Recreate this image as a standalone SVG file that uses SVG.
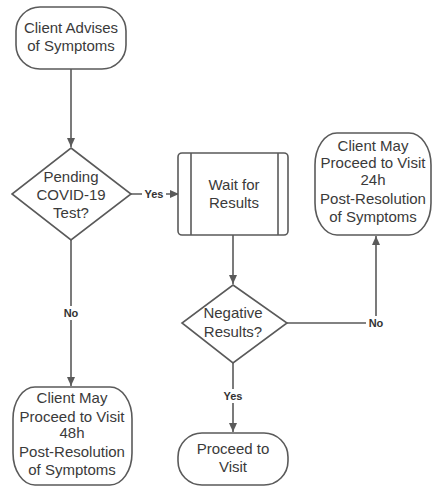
<svg xmlns="http://www.w3.org/2000/svg" width="433" height="487" viewBox="0 0 433 487">
<style>
.shape{fill:#fff;stroke:#5a5a5a;stroke-width:1.6}
.t{font-family:"Liberation Sans",Arial,sans-serif;font-size:15px;fill:#3a3a3a;text-anchor:middle}
.lbl{font-family:"Liberation Sans",Arial,sans-serif;font-size:11px;font-weight:bold;fill:#333;text-anchor:middle}
.edge{fill:none;stroke:#5a5a5a;stroke-width:1.6}
</style>
<defs>
<marker id="arr" markerWidth="10" markerHeight="10" refX="9" refY="5" orient="auto" markerUnits="userSpaceOnUse">
<path d="M0,1 L9,5 L0,9 Z" fill="#5a5a5a"/>
</marker>
</defs>
<rect width="433" height="487" fill="#fff"/>
<g id="connectors">
<path class="edge" d="M71,69 V147" marker-end="url(#arr)"/>
<path class="edge" d="M131,194 H179" marker-end="url(#arr)"/>
<rect x="142" y="187" width="24" height="14" fill="#fff"/>
<text class="lbl" x="154" y="198">Yes</text>
<path class="edge" d="M233,235 V284" marker-end="url(#arr)"/>
<path class="edge" d="M287,323 H376 V236" marker-end="url(#arr)"/>
<rect x="366" y="316" width="20" height="14" fill="#fff"/>
<text class="lbl" x="376" y="327">No</text>
<path class="edge" d="M71,240 V386" marker-end="url(#arr)"/>
<rect x="61" y="306" width="20" height="14" fill="#fff"/>
<text class="lbl" x="71" y="317">No</text>
<path class="edge" d="M233,363 V432" marker-end="url(#arr)"/>
<rect x="220" y="389" width="26" height="14" fill="#fff"/>
<text class="lbl" x="233" y="400">Yes</text>
</g>
<g id="n1">
<rect class="shape" x="16" y="7" width="110" height="62" rx="24" ry="24"/>
<text class="t" x="71" y="33">Client Advises</text>
<text class="t" x="71" y="51">of Symptoms</text>
</g>
<g id="n2">
<polygon class="shape" points="71,148 131,194 71,240 12,194"/>
<text class="t" x="71" y="182">Pending</text>
<text class="t" x="71" y="200">COVID-19</text>
<text class="t" x="71" y="218">Test?</text>
</g>
<g id="n3">
<rect class="shape" x="178" y="153" width="110" height="82" rx="4"/>
<line class="shape" x1="191" y1="153" x2="191" y2="235"/>
<line class="shape" x1="278" y1="153" x2="278" y2="235"/>
<text class="t" x="234" y="190">Wait for</text>
<text class="t" x="234" y="208">Results</text>
</g>
<g id="n4">
<rect class="shape" x="315" y="133" width="116" height="102" rx="22" ry="32"/>
<text class="t" x="373" y="151">Client May</text>
<text class="t" x="373" y="168">Proceed to Visit</text>
<text class="t" x="373" y="185">24h</text>
<text class="t" x="373" y="204">Post-Resolution</text>
<text class="t" x="373" y="222">of Symptoms</text>
</g>
<g id="n5">
<polygon class="shape" points="233,285 287,323 233,363 182,323"/>
<text class="t" x="233" y="318">Negative</text>
<text class="t" x="233" y="337">Results?</text>
</g>
<g id="n6">
<rect class="shape" x="13" y="387" width="119" height="98" rx="22" ry="32"/>
<text class="t" x="72" y="403">Client May</text>
<text class="t" x="72" y="422">Proceed to Visit</text>
<text class="t" x="72" y="438">48h</text>
<text class="t" x="72" y="457">Post-Resolution</text>
<text class="t" x="72" y="475">of Symptoms</text>
</g>
<g id="n7">
<rect class="shape" x="178" y="433" width="110" height="52" rx="24" ry="24"/>
<text class="t" x="233" y="454">Proceed to</text>
<text class="t" x="233" y="472">Visit</text>
</g>
</svg>
